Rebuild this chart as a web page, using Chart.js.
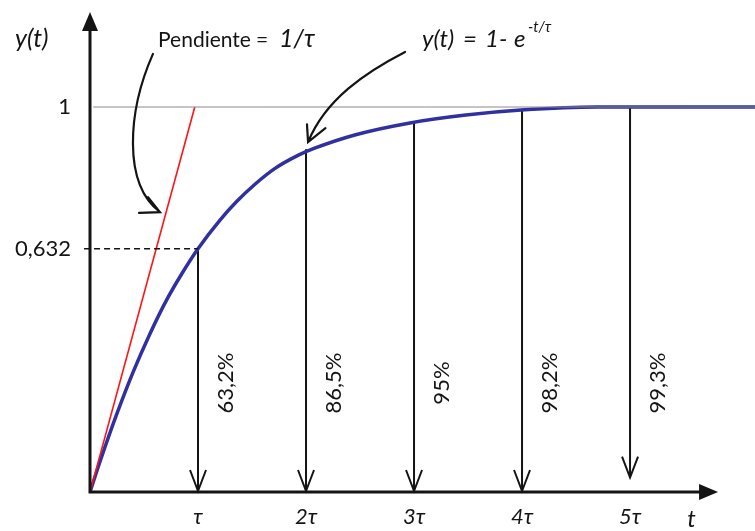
<!DOCTYPE html>
<html>
<head>
<meta charset="utf-8">
<script src="https://cdn.jsdelivr.net/npm/chart.js@4.4.0/dist/chart.umd.min.js"></script>
<style>
html, body { margin: 0; padding: 0; background: #fff; }
#wrap { width: 755px; height: 531px; position: relative; }
</style>
</head>
<body>
<div id="wrap"><canvas id="chart"></canvas></div>
<script>
// respuesta al escalon, t en unidades de tau
var curveT = [0, 0.1, 0.25, 0.4, 0.55, 0.7, 0.85, 1.0, 1.2, 1.36, 1.53, 1.71, 1.93, 2.08, 2.46, 2.95, 3.48, 3.99, 4.7, 5.5, 6.16];
var curveY = [0, 0.085, 0.204, 0.312, 0.408, 0.494, 0.567, 0.632, 0.705, 0.755, 0.80, 0.84, 0.875, 0.893, 0.928, 0.958, 0.979, 0.992, 1.0, 1.0, 1.0];

// recta tangente en el origen (pendiente 1/tau)
var slopeT = [0, 0.97];
var slopeY = [0, 1];

var tauSteps = [1, 2, 3, 4, 5];
var tauLabels = ['τ', '2τ', '3τ', '4τ', '5τ'];
var stepY = [0.632, 0.89, 0.958, 0.992, 1.0];
var arrowEndY = [0, 0, 0, 0, 0.035];
var pctLabels = ['63,2%', '86,5%', '95%', '98,2%', '99,3%'];

var yTicks = [0.632, 1];
var yTickLabels = ['0,632', '1'];

var FONT = 'Lato, "Open Sans", sans-serif';
var INK = '#141414';

function pts(xs, ys) {
    return xs.map(function (x, i) { return { x: x, y: ys[i] }; });
}

var data = {
    datasets: [{
        // y = 1
        data: pts([0.03, 6.16], [1, 1]),
        borderColor: '#8a8a8a',
        borderWidth: 1,
        pointRadius: 0,
    }, {
        // 0,632
        data: pts([-0.055, 1], [0.632, 0.632]),
        borderColor: INK,
        borderWidth: 1.5,
        borderDash: [6, 4],
        pointRadius: 0,
        clip: false,
    }, {
        data: pts(slopeT, slopeY),
        borderColor: 'rgb(255, 20, 20)',
        borderWidth: 1.6,
        pointRadius: 0,
    }, {
        data: pts(curveT, curveY),
        borderColor: 'rgb(48, 48, 160)',
        borderWidth: 3.5,
        pointRadius: 0,
        cubicInterpolationMode: 'monotone',
    }]
};

function arrowHead(ctx, x, y) {
    // flecha abierta apuntando hacia abajo
    ctx.beginPath();
    ctx.moveTo(x - 8, y - 21);
    ctx.lineTo(x, y);
    ctx.lineTo(x + 8, y - 21);
    ctx.stroke();
}

// trozos de texto con desplazamiento propio (dx, dy) desde el inicio
function drawRich(ctx, x, y, parts) {
    parts.forEach(function (p) {
        ctx.font = p.font;
        ctx.fillText(p.text, x + (p.dx || 0), y + (p.dy || 0));
    });
}

var sketch = {
    id: 'sketch',
    beforeDatasetsDraw: function (chart) {
        var ctx = chart.ctx, xs = chart.scales.x, ys = chart.scales.y;
        ctx.save();
        ctx.strokeStyle = INK;
        ctx.lineWidth = 2;
        tauSteps.forEach(function (t, i) {
            var x = xs.getPixelForValue(t);
            var y0 = ys.getPixelForValue(stepY[i]);
            var y1 = ys.getPixelForValue(arrowEndY[i]) - 1;
            ctx.beginPath();
            ctx.moveTo(x, y0);
            ctx.lineTo(x, y1);
            ctx.stroke();
            arrowHead(ctx, x, y1);
        });
        // porcentajes
        ctx.fillStyle = INK;
        ctx.font = '22px ' + FONT;
        ctx.textAlign = 'center';
        ctx.textBaseline = 'middle';
        tauSteps.forEach(function (t, i) {
            ctx.save();
            ctx.translate(xs.getPixelForValue(t) + 28, ys.getPixelForValue(0.283));
            ctx.rotate(-Math.PI / 2);
            ctx.fillText(pctLabels[i], 0, 0);
            ctx.restore();
        });
        ctx.restore();
    },
    afterDraw: function (chart) {
        var ctx = chart.ctx, xs = chart.scales.x, ys = chart.scales.y;
        var X = function (v) { return xs.getPixelForValue(v); };
        var Y = function (v) { return ys.getPixelForValue(v); };
        var ox = X(0), oy = Y(0);
        ctx.save();
        ctx.strokeStyle = INK;
        ctx.fillStyle = INK;

        // ejes con flecha
        ctx.lineWidth = 3;
        ctx.beginPath();
        ctx.moveTo(ox, oy + 1.5);
        ctx.lineTo(ox, Y(1.2));
        ctx.moveTo(ox - 1.5, oy);
        ctx.lineTo(X(5.67), oy);
        ctx.stroke();
        var ty = Y(1.247), tx = X(5.815);
        ctx.beginPath();
        ctx.moveTo(ox, ty);
        ctx.lineTo(ox - 8, ty + 19);
        ctx.lineTo(ox + 8, ty + 19);
        ctx.closePath();
        ctx.fill();
        ctx.beginPath();
        ctx.moveTo(tx, oy);
        ctx.lineTo(tx - 19, oy - 8);
        ctx.lineTo(tx - 19, oy + 8);
        ctx.closePath();
        ctx.fill();

        // flechas curvas de las notas
        ctx.lineWidth = 2.2;
        ctx.lineCap = 'round';
        ctx.beginPath();
        ctx.moveTo(X(0.583), Y(1.138));
        ctx.bezierCurveTo(X(0.35), Y(0.99), X(0.30), Y(0.80), X(0.648), Y(0.727));
        ctx.moveTo(X(0.454), Y(0.725));
        ctx.lineTo(X(0.648), Y(0.727));
        ctx.lineTo(X(0.537), Y(0.766));
        ctx.stroke();

        ctx.beginPath();
        ctx.moveTo(X(2.917), Y(1.143));
        ctx.bezierCurveTo(X(2.55), Y(1.09), X(2.18), Y(1.02), X(2.019), Y(0.909));
        ctx.moveTo(X(2.009), Y(0.955));
        ctx.lineTo(X(2.019), Y(0.909));
        ctx.lineTo(X(2.18), Y(0.945));
        ctx.stroke();

        // textos
        ctx.textAlign = 'left';
        ctx.textBaseline = 'alphabetic';
        var it = 'italic 24px ' + FONT;
        drawRich(ctx, X(-0.694), Y(1.156), [
            { text: 'y(t)', font: 'italic 25px ' + FONT }
        ]);
        drawRich(ctx, X(0.63), Y(1.156), [
            { text: 'Pendiente', font: '21px ' + FONT },
            { text: '=', font: '21px ' + FONT, dx: 98 },
            { text: '1/τ', font: 'italic 25px ' + FONT, dx: 121 }
        ]);
        drawRich(ctx, X(3.074), Y(1.156), [
            { text: 'y(t)', font: it },
            { text: '=', font: it, dx: 41 },
            { text: '1-', font: it, dx: 63 },
            { text: 'e', font: it, dx: 92 },
            { text: '-t/τ', font: 'italic 15px ' + FONT, dx: 106, dy: -15 }
        ]);
        drawRich(ctx, X(5.53), Y(-0.09), [
            { text: 't', font: 'italic 24px ' + FONT }
        ]);
        ctx.restore();
    }
};

var config = {
    type: 'line',
    data: data,
    options: {
        responsive: true,
        maintainAspectRatio: false,
        animation: false,
        layout: { padding: 0 },
        plugins: { legend: { display: false }, tooltip: { enabled: false } },
        scales: {
            x: {
                type: 'linear',
                min: 0,
                max: 6.157,
                afterFit: function (s) {
                    s.height = 39;
                    s.paddingLeft = 0;
                    s.paddingRight = 0;
                },
                afterBuildTicks: function (s) { s.ticks = tauSteps.map(function (v) { return { value: v }; }); },
                ticks: {
                    callback: function (v) { return tauLabels[tauSteps.indexOf(v)]; },
                    font: { family: FONT, size: 22, style: 'italic' },
                    color: INK,
                    padding: 12,
                    maxRotation: 0,
                    autoSkip: false,
                },
                grid: { display: false, drawTicks: false },
                border: { display: false },
            },
            y: {
                type: 'linear',
                min: 0,
                max: 1.278,
                afterFit: function (s) {
                    s.width = 90;
                    s.paddingTop = 0;
                    s.paddingBottom = 0;
                },
                afterBuildTicks: function (s) { s.ticks = yTicks.map(function (v) { return { value: v }; }); },
                ticks: {
                    callback: function (v) { return yTickLabels[yTicks.indexOf(v)]; },
                    font: { family: FONT, size: 22 },
                    color: INK,
                    padding: 19,
                    autoSkip: false,
                },
                grid: { display: false, drawTicks: false },
                border: { display: false },
            }
        }
    },
    plugins: [sketch],
};

var chart = new Chart(document.getElementById('chart'), config);
</script>
</body>
</html>
